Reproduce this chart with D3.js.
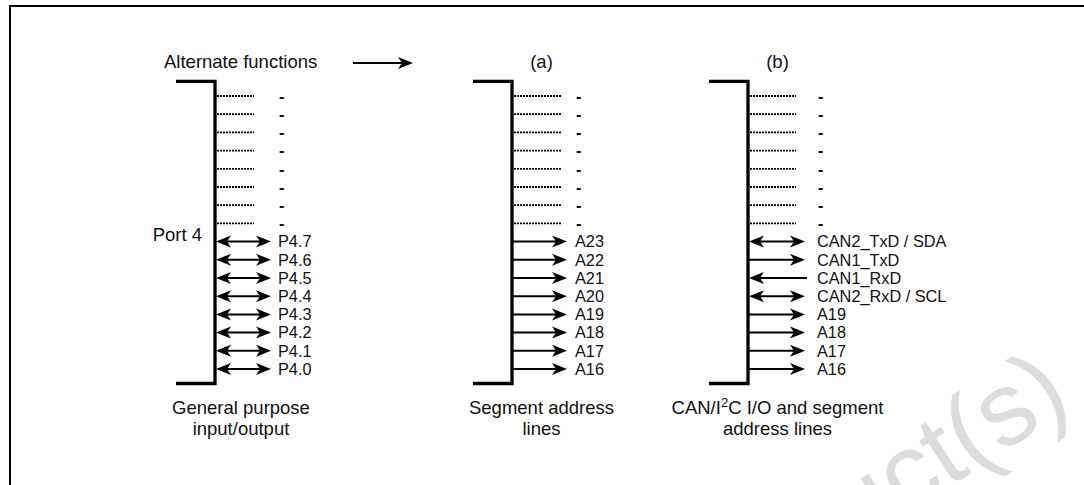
<!DOCTYPE html>
<html>
<head>
<meta charset="utf-8">
<script src="https://cdn.jsdelivr.net/npm/d3@7"></script>
<style>
  body { margin: 0; background: #fff; }
  text { font-family: "Liberation Sans", Arial, sans-serif; fill: #111; }
</style>
</head>
<body>
<script>

// pin labels, top to bottom
var unusedLabels = ["-", "-", "-", "-", "-", "-", "-", "-"];
var portLabels = ["P4.7", "P4.6", "P4.5", "P4.4", "P4.3", "P4.2", "P4.1", "P4.0"];
var segmentLabels = ["A23", "A22", "A21", "A20", "A19", "A18", "A17", "A16"];
var canLabels = ["CAN2_TxD / SDA", "CAN1_TxD", "CAN1_RxD", "CAN2_RxD / SCL", "A19", "A18", "A17", "A16"];

// signal direction of each pin
var portDirs = ["both", "both", "both", "both", "both", "both", "both", "both"];
var segmentDirs = ["out", "out", "out", "out", "out", "out", "out", "out"];
var canDirs = ["both", "out", "in", "both", "out", "out", "out", "out"];

var panelTitles = ["", "(a)", "(b)"];
var captions = [
  ["General purpose", "input/output"],
  ["Segment address", "lines"],
  ["CAN/I^2C I/O and segment", "address lines"]
];

var width = 1084,
    height = 485,
    bigFont = 18.5,
    pinFont = 16.3;

var svg = d3.select("body").append("svg")
    .attr("width", width)
    .attr("height", height);

// watermark, behind everything
svg.append("text")
    .attr("transform", "translate(1074,406) rotate(-33)")
    .attr("text-anchor", "end")
    .style("font-size", "104px")
    .style("fill", "#dcdcdc")
    .text("Obsolete Product(s)");

// frame
svg.append("path")
    .attr("d", "M10," + (height + 5) + "V6H" + (width + 5))
    .attr("fill", "none")
    .attr("stroke", "#000")
    .attr("stroke-width", 2);

svg.append("text")
    .attr("x", 26)
    .attr("y", -5)
    .style("font-size", "18px")
    .style("font-weight", "bold")
    .text("g");

// one row per pin, 16 pins per port
var y = d3.scalePoint()
    .domain(d3.range(16))
    .range([96, 369]);

var panels = [
  {bx: 215, left: 176, dotEnd: 254, tip: 271, lx: 278, cx: 241, labels: portLabels, dirs: portDirs},
  {bx: 512, left: 473, dotEnd: 561, tip: 567, lx: 575, cx: 541.5, labels: segmentLabels, dirs: segmentDirs},
  {bx: 748, left: 709, dotEnd: 796, tip: 805, lx: 817, cx: 777.5, labels: canLabels, dirs: canDirs}
];

function head(tx, ty, dir) {
  // stealth-style arrowhead, dir = 1 points right, -1 points left
  return "M" + tx + "," + ty +
    "L" + (tx - 15 * dir) + "," + (ty - 6) +
    "L" + (tx - 11 * dir) + "," + ty +
    "L" + (tx - 15 * dir) + "," + (ty + 6) + "Z";
}

function arrow(g, x0, x1, yy, dir) {
  var a = x0 + 1, b = x1;
  var lineStart = dir === "in" || dir === "both" ? a + 10 : a;
  var lineEnd = dir === "out" || dir === "both" ? b - 10 : b + 2;
  g.append("line")
      .attr("x1", lineStart).attr("x2", lineEnd)
      .attr("y1", yy).attr("y2", yy)
      .attr("stroke", "#000")
      .attr("stroke-width", 2);
  if (dir === "out" || dir === "both")
    g.append("path").attr("d", head(b, yy, 1)).attr("fill", "#000");
  if (dir === "in" || dir === "both")
    g.append("path").attr("d", head(a, yy, -1)).attr("fill", "#000");
}

panels.forEach(function(p, i) {
  var g = svg.append("g");

  // bracket
  g.append("path")
      .attr("d", "M" + p.left + ",81.3H" + p.bx + "V383.5H" + p.left)
      .attr("fill", "none")
      .attr("stroke", "#000")
      .attr("stroke-width", 3.3);

  // unused upper pins: dotted stubs with "-"
  unusedLabels.forEach(function(d, j) {
    g.append("line")
        .attr("x1", p.bx + 2).attr("x2", p.dotEnd)
        .attr("y1", y(j)).attr("y2", y(j))
        .attr("stroke", "#000")
        .attr("stroke-width", 1.8)
        .attr("stroke-dasharray", "2,1");
    g.append("text")
        .attr("x", p.lx + 1)
        .attr("y", y(j))
        .attr("dy", "0.35em")
        .style("font-size", pinFont + "px")
        .style("font-weight", "bold")
        .text(d);
  });

  // used lower pins
  p.labels.forEach(function(d, j) {
    var yy = y(j + 8);
    arrow(g, p.bx, p.tip, yy, p.dirs[j]);
    g.append("text")
        .attr("x", p.lx)
        .attr("y", yy)
        .attr("dy", "0.36em")
        .style("font-size", pinFont + "px")
        .text(d);
  });

  if (panelTitles[i])
    g.append("text")
        .attr("x", p.cx)
        .attr("y", 68)
        .attr("text-anchor", "middle")
        .style("font-size", bigFont + "px")
        .text(panelTitles[i]);

  captions[i].forEach(function(line, k) {
    var t = g.append("text")
        .attr("x", p.cx)
        .attr("y", 414 + k * 21)
        .attr("text-anchor", "middle")
        .style("font-size", bigFont + "px");
    var parts = line.split(/\^(\d)/);
    if (parts.length === 1) { t.text(line); return; }
    t.append("tspan").text(parts[0]);
    t.append("tspan").attr("dy", -7).style("font-size", "13px").text(parts[1]);
    t.append("tspan").attr("dy", 7).text(parts[2]);
  });
});

svg.append("text")
    .attr("x", 164)
    .attr("y", 68)
    .style("font-size", bigFont + "px")
    .text("Alternate functions");

svg.append("text")
    .attr("x", 202)
    .attr("y", 241)
    .attr("text-anchor", "end")
    .style("font-size", bigFont + "px")
    .text("Port 4");

// "alternate functions" pointer
var pointer = svg.append("g");
arrow(pointer, 352, 413, 63, "out");

</script>
</body>
</html>
